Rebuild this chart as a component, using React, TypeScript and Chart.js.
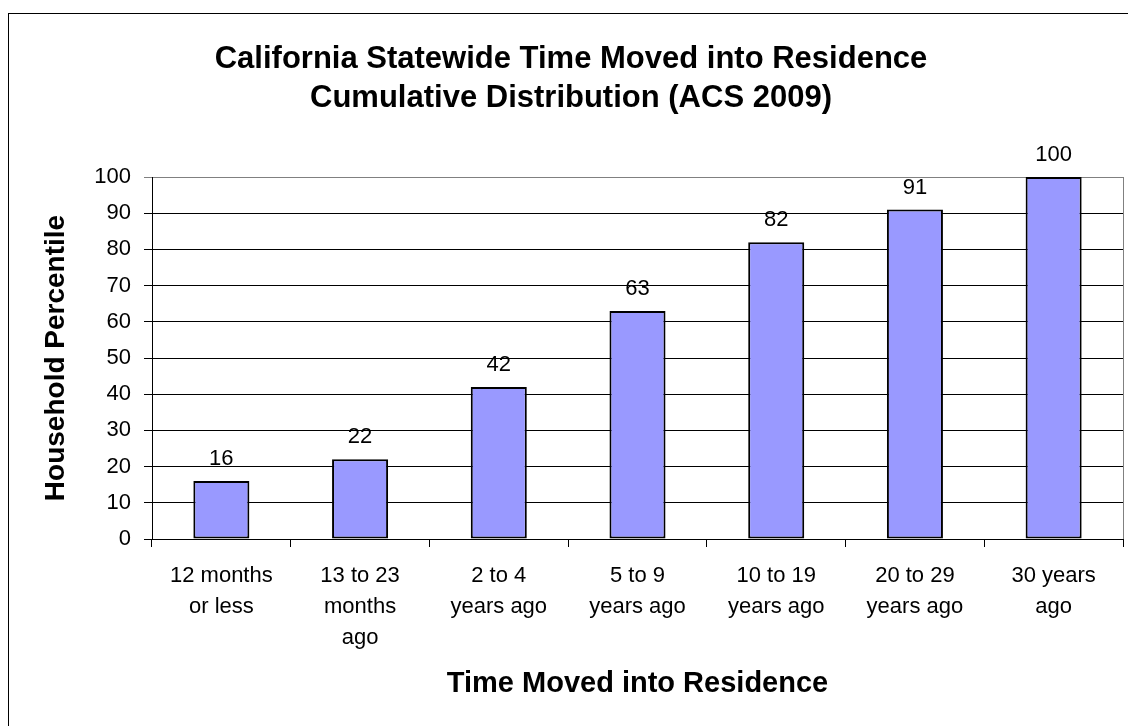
import React, { useEffect, useRef } from "react";
import { Chart, registerables } from "chart.js";

Chart.register(...registerables);

// Chart text
const titleLines = [
  "California Statewide Time Moved into Residence",
  "Cumulative Distribution (ACS 2009)",
];
const xAxisTitle = "Time Moved into Residence";
const yAxisTitle = "Household Percentile";

// Categories (multi-line tick labels)
const categories = [
  ["12 months", "or less"],
  ["13 to 23", "months", "ago"],
  ["2 to 4", "years ago"],
  ["5 to 9", "years ago"],
  ["10 to 19", "years ago"],
  ["20 to 29", "years ago"],
  ["30 years", "ago"],
];

// Cumulative household percentile per category
const percentiles = [16, 22, 42, 63, 82, 91, 100];

// Value axis range
const yMin = 0;
const yMax = 100;
const yStep = 10;

const FONT = "'Liberation Sans', Arial, Helvetica, sans-serif";

const decorPlugin = {
  id: "decor",
  beforeDraw(chart: any) {
    const { ctx, chartArea } = chart;
    ctx.save();
    ctx.fillStyle = "#ffffff";
    ctx.fillRect(0, 0, chart.width, chart.height);
    // outer chart frame
    ctx.strokeStyle = "#000000";
    ctx.lineWidth = 1;
    ctx.strokeRect(8.5, 13.5, chart.width + 20, chart.height + 20);
    // plot area frame
    ctx.strokeStyle = "#808080";
    ctx.strokeRect(
      Math.round(chartArea.left) + 0.5,
      Math.round(chartArea.top) + 0.5,
      Math.round(chartArea.right - chartArea.left),
      Math.round(chartArea.bottom - chartArea.top)
    );
    ctx.restore();
  },
  afterDatasetsDraw(chart: any) {
    const { ctx } = chart;
    const meta = chart.getDatasetMeta(0);
    ctx.save();
    ctx.fillStyle = "#000000";
    ctx.font = `22px ${FONT}`;
    ctx.textAlign = "center";
    ctx.textBaseline = "alphabetic";
    meta.data.forEach((bar: any, i: number) => {
      ctx.fillText(String(percentiles[i]), bar.x, bar.y - 16);
    });
    ctx.restore();
  },
  afterDraw(chart: any) {
    const { ctx } = chart;
    ctx.save();
    ctx.fillStyle = "#000000";
    ctx.font = `bold 31px ${FONT}`;
    ctx.textAlign = "center";
    ctx.textBaseline = "alphabetic";
    ctx.fillText(titleLines[0], 571, 68);
    ctx.fillText(titleLines[1], 571, 107);
    ctx.restore();
  },
};

export default function App() {
  const canvasRef = useRef<HTMLCanvasElement | null>(null);

  useEffect(() => {
    const canvas = canvasRef.current;
    if (!canvas) return;
    const chart = new Chart(canvas, {
      type: "bar",
      data: {
        labels: categories,
        datasets: [
          {
            data: percentiles,
            backgroundColor: "#9999FF",
            borderColor: "#000000",
            borderWidth: 2,
            borderSkipped: false,
            barPercentage: 0.404,
            categoryPercentage: 1,
          },
        ],
      },
      options: {
        responsive: false,
        animation: false,
        layout: { padding: { left: 0, right: 5, top: 177, bottom: 0 } },
        plugins: {
          legend: { display: false },
          tooltip: { enabled: false },
          title: { display: false },
        },
        scales: {
          x: {
            grid: {
              offset: true,
              drawOnChartArea: false,
              drawTicks: true,
              tickLength: 8,
              color: "#000000",
            },
            border: { display: true, color: "#000000", width: 1 },
            ticks: {
              color: "#000000",
              font: { family: FONT, size: 22, lineHeight: 1.39 },
              padding: 14,
              autoSkip: false,
              maxRotation: 0,
              minRotation: 0,
            },
            title: {
              display: true,
              text: xAxisTitle,
              color: "#000000",
              font: { family: FONT, size: 29, weight: "bold" },
              padding: { top: 0, bottom: 25 },
            },
            afterFit(scale: any) {
              scale.height = 187;
            },
          },
          y: {
            min: yMin,
            max: yMax,
            ticks: {
              stepSize: yStep,
              color: "#000000",
              font: { family: FONT, size: 22 },
              padding: 13,
            },
            grid: {
              drawTicks: true,
              tickLength: 8,
              color: (c: any) => (c.tick && c.tick.value === yMax ? "#808080" : "#000000"),
              lineWidth: 1,
            },
            border: { display: true, color: "#000000", width: 1 },
            title: {
              display: true,
              text: yAxisTitle,
              color: "#000000",
              font: { family: FONT, size: 28, weight: "bold" },
              padding: { top: 39, bottom: 0 },
            },
            afterFit(scale: any) {
              scale.width = 152;
            },
          },
        },
      },
      plugins: [decorPlugin],
    });
    return () => chart.destroy();
  }, []);

  return (
    <div style={{ position: "absolute", left: 0, top: 0, width: 1128, height: 726 }}>
      <canvas ref={canvasRef} width={1128} height={726} />
    </div>
  );
}
